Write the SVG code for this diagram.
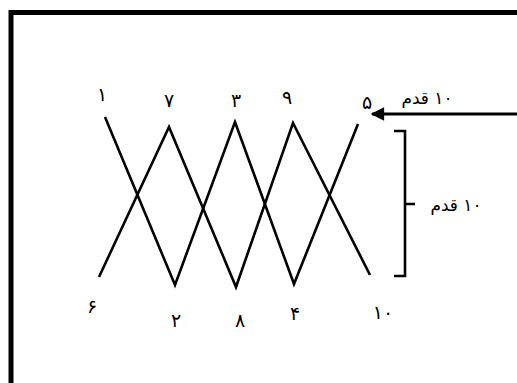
<svg xmlns="http://www.w3.org/2000/svg" width="517" height="383" viewBox="0 0 517 383">
<defs>
<style>
.lbl{font-family:"DejaVu Sans",sans-serif;font-size:19px;fill:#000;text-anchor:middle}
.fa{font-family:"DejaVu Sans",sans-serif;font-size:17px;fill:#000;text-anchor:middle;direction:rtl;unicode-bidi:embed}
.ln{fill:none;stroke:#000;stroke-width:2.6;stroke-linejoin:miter}
</style>
<marker id="ah" viewBox="0 0 10 10" refX="9" refY="5" markerWidth="5" markerHeight="4.5" markerUnits="strokeWidth" orient="auto">
<path d="M0,0 L10,5 L0,10 Z" fill="#000"/>
</marker>
</defs>
<rect width="517" height="383" fill="#fff"/>
<g id="frame"><path d="M11,383 L11,12.5 L517,12.5" fill="none" stroke="#000" stroke-width="5"/></g>
<g id="connectors">
<path class="ln" d="M105,117 L175,285 L235,122 L294,284 L358,124"/>
<path class="ln" d="M99,277 L169,127 L236,287 L293,123 L370,275"/>
<path d="M517,114 L372,114" fill="none" stroke="#000" stroke-width="3" marker-end="url(#ah)"/>
<path class="ln" d="M394,131 L405,131 L405,276 L394,276 M405,204 L415,204"/>
</g>
<g id="p1"><text class="lbl" x="102" y="101">۱</text></g>
<g id="p7"><text class="lbl" x="169" y="107">۷</text></g>
<g id="p3"><text class="lbl" x="236" y="107">۳</text></g>
<g id="p9"><text class="lbl" x="287" y="104">۹</text></g>
<g id="p5"><text class="lbl" x="367" y="109">۵</text></g>
<g id="p6"><text class="lbl" x="92" y="313">۶</text></g>
<g id="p2"><text class="lbl" x="176" y="327">۲</text></g>
<g id="p8"><text class="lbl" x="240" y="327">۸</text></g>
<g id="p4"><text class="lbl" x="295" y="320">۴</text></g>
<g id="p10"><text class="lbl" x="383" y="319">۱۰</text></g>
<g id="lbl-top"><text class="fa" x="427" y="104">۱۰ قدم</text></g>
<g id="lbl-side"><text class="fa" x="456" y="211">۱۰ قدم</text></g>
</svg>
